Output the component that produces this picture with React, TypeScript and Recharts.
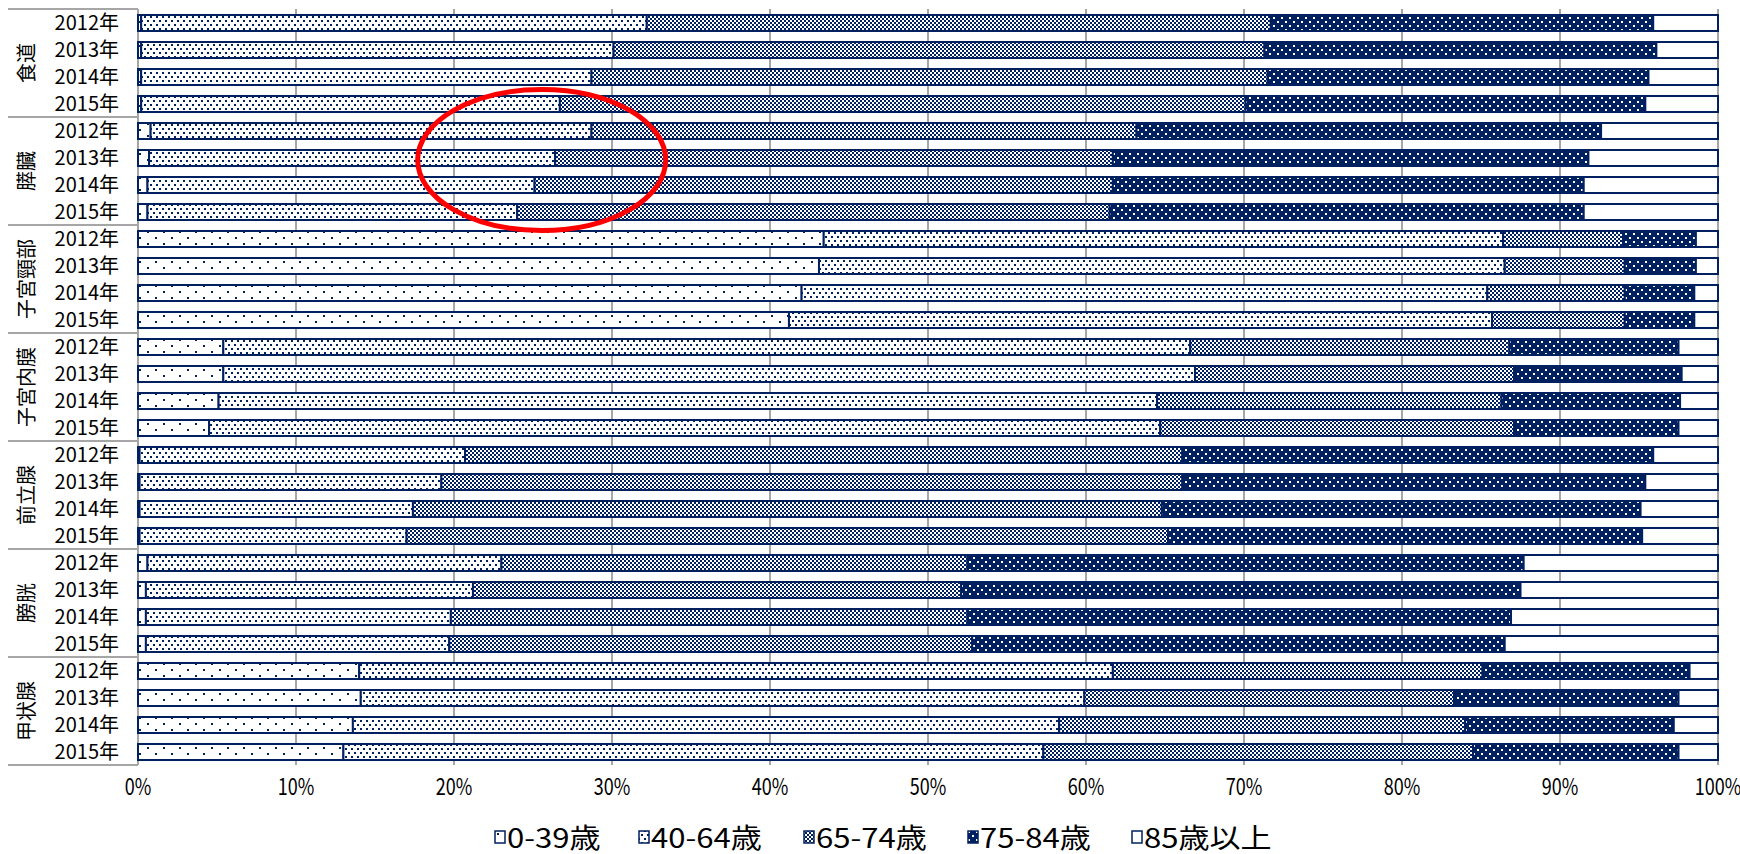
import React from "react";
import {
  BarChart,
  Bar,
  XAxis,
  YAxis,
  CartesianGrid,
  Legend,
  ReferenceArea,
} from "recharts";

const sites = ["食道", "膵臓", "子宮頸部", "子宮内膜", "前立腺", "膀胱", "甲状腺"];
const years = ["2012年", "2013年", "2014年", "2015年"];
const ageGroups = ["0-39歳", "40-64歳", "65-74歳", "75-84歳", "85歳以上"];

// share of patients (%) per row: sites in order, 2012-2015 inside each site
const age0to39 = [
  0.2, 0.2, 0.2, 0.2,
  0.8, 0.7, 0.6, 0.6,
  43.4, 43.1, 42.0, 41.2,
  5.4, 5.4, 5.1, 4.5,
  0.1, 0.1, 0.1, 0.1,
  0.6, 0.5, 0.5, 0.5,
  14.0, 14.1, 13.6, 13.0,
];
const age40to64 = [
  32.0, 29.9, 28.5, 26.5,
  27.9, 25.7, 24.5, 23.4,
  43.0, 43.4, 43.4, 44.5,
  61.2, 61.5, 59.4, 60.2,
  20.6, 19.1, 17.3, 16.9,
  22.4, 20.7, 19.3, 19.2,
  47.7, 45.8, 44.7, 44.3,
];
const age65to74 = [
  39.5, 41.2, 42.8, 43.4,
  34.5, 35.3, 36.6, 37.5,
  7.6, 7.6, 8.7, 8.4,
  20.2, 20.2, 21.8, 22.4,
  45.4, 46.9, 47.4, 48.2,
  29.5, 30.9, 32.7, 33.1,
  23.4, 23.4, 25.7, 27.2,
];
const age75to84 = [
  24.2, 24.8, 24.1, 25.3,
  29.4, 30.1, 29.8, 30.0,
  4.6, 4.5, 4.4, 4.4,
  10.7, 10.6, 11.3, 10.4,
  29.8, 29.3, 30.3, 30.0,
  35.2, 35.4, 34.4, 33.7,
  13.1, 14.2, 13.2, 13.0,
];
const age85plus = [
  4.1, 3.9, 4.4, 4.6,
  7.4, 8.2, 8.5, 8.5,
  1.4, 1.4, 1.5, 1.5,
  2.5, 2.3, 2.4, 2.5,
  4.1, 4.6, 4.9, 4.8,
  12.3, 12.5, 13.1, 13.5,
  1.8, 2.5, 2.8, 2.5,
];
const xTicks = [0, 10, 20, 30, 40, 50, 60, 70, 80, 90, 100];

// red ellipse drawn around the 膵臓 40-64 boundary
const highlight = { from: 17.7, to: 33.4, top: "食道-2015年", bottom: "膵臓-2015年" };

const NAVY = "#002060";
const GRID = "#a6a6a6";
const BAND = 27;
const JP = "'Noto Sans CJK JP', sans-serif";
const NARROW = "'Liberation Sans Narrow', 'Noto Sans CJK JP', sans-serif";
const legendLeft = [494, 638, 803, 967, 1131];

const rows = sites.flatMap((site, s) =>
  years.map((year, y) => {
    const i = s * 4 + y;
    return {
      key: `${site}-${year}`,
      site,
      year,
      a0: age0to39[i],
      a1: age40to64[i],
      a2: age65to74[i],
      a3: age75to84[i],
      a4: age85plus[i],
    };
  })
);

const series = [
  { key: "a0", fill: "url(#pat0)" },
  { key: "a1", fill: "url(#pat1)" },
  { key: "a2", fill: "url(#pat2)" },
  { key: "a3", fill: "url(#pat3)" },
  { key: "a4", fill: "#ffffff" },
];

function RowTick(props: any) {
  const { y, payload } = props;
  const idx = rows.findIndex((r) => r.key === payload.value);
  if (idx < 0) return null;
  const row = rows[idx];
  const pos = idx % 4;
  return (
    <g>
      <text x={119} y={y} dy={7} textAnchor="end" fontSize={20} fontFamily={JP} fill="#000">
        {row.year}
      </text>
      {pos === 0 && (
        <line x1={8} x2={138} y1={y - BAND / 2} y2={y - BAND / 2} stroke={GRID} strokeWidth={2} />
      )}
      {idx === rows.length - 1 && (
        <line x1={8} x2={138} y1={y + BAND / 2} y2={y + BAND / 2} stroke={GRID} strokeWidth={2} />
      )}
      {pos === 1 && (
        <text
          transform={`translate(25, ${y + BAND / 2}) rotate(-90)`}
          textAnchor="middle"
          dominantBaseline="central"
          fontSize={20}
          fontFamily={JP}
          fill="#000"
        >
          {row.site}
        </text>
      )}
    </g>
  );
}

function PctTick(props: any) {
  const { x, y, payload } = props;
  return (
    <text
      transform={`translate(${x}, ${y + 22}) scale(1, 1.3)`}
      textAnchor="middle"
      fontSize={18}
      fontFamily={NARROW}
      fill="#000"
    >
      {payload.value}%
    </text>
  );
}

function Ellipse(props: any) {
  const { x, y, width, height } = props;
  return (
    <ellipse
      cx={x + width / 2}
      cy={y + height / 2 + 2.5}
      rx={width / 2}
      ry={height / 2 + 3}
      fill="none"
      stroke="#ff0000"
      strokeWidth={5}
    />
  );
}

function LegendBox() {
  return (
    <div style={{ height: 59, position: "relative", width: 1740 }}>
      {ageGroups.map((name, i) => (
        <div
          key={name}
          style={{
            position: "absolute",
            left: legendLeft[i],
            top: 27,
            height: 30,
            display: "flex",
            alignItems: "center",
            whiteSpace: "nowrap",
          }}
        >
          <svg width={12} height={14} style={{ marginRight: 1 }}>
            <rect x={1} y={1} width={10} height={12} fill={series[i].fill} stroke={NAVY} strokeWidth={1.5} />
          </svg>
          <span
            style={{
              display: "inline-block",
              fontSize: 27,
              fontFamily: JP,
              color: "#000",
              transform: "scale(1.15, 1)",
              transformOrigin: "left center",
              lineHeight: "30px",
            }}
          >
            {name}
          </span>
        </div>
      ))}
    </div>
  );
}

export default function App() {
  return (
    <div style={{ position: "absolute", left: 0, top: 0, width: 1740, height: 854, background: "#fff" }}>
      <BarChart
        width={1740}
        height={854}
        data={rows}
        layout="vertical"
        margin={{ top: 9, right: 22, left: 0, bottom: 0 }}
      >
        <defs>
          <pattern id="pat0" width={16} height={12} patternUnits="userSpaceOnUse">
            <rect width={16} height={12} fill="#fff" />
            <rect x={3} y={3} width={2} height={2} fill={NAVY} shapeRendering="crispEdges" />
            <rect x={11} y={9} width={2} height={2} fill={NAVY} shapeRendering="crispEdges" />
          </pattern>
          <pattern id="pat1" width={6} height={8} patternUnits="userSpaceOnUse">
            <rect width={6} height={8} fill="#fff" />
            <rect x={0} y={0} width={2} height={2} fill={NAVY} shapeRendering="crispEdges" />
            <rect x={3} y={4} width={2} height={2} fill={NAVY} shapeRendering="crispEdges" />
          </pattern>
          <pattern id="pat2" width={4} height={4} patternUnits="userSpaceOnUse">
            <rect width={4} height={4} fill="#fff" />
            <rect x={0} y={0} width={2} height={2} fill={NAVY} shapeRendering="crispEdges" />
            <rect x={2} y={2} width={2} height={2} fill={NAVY} shapeRendering="crispEdges" />
          </pattern>
          <pattern id="pat3" width={8} height={8} patternUnits="userSpaceOnUse">
            <rect width={8} height={8} fill={NAVY} />
            <rect x={1} y={1} width={2} height={2} fill="#fff" shapeRendering="crispEdges" />
            <rect x={5} y={5} width={2} height={2} fill="#fff" shapeRendering="crispEdges" />
          </pattern>
        </defs>
        <CartesianGrid horizontal={false} stroke={GRID} strokeWidth={2} />
        <XAxis
          type="number"
          domain={[0, 100]}
          ticks={xTicks}
          interval={0}
          axisLine={false}
          tickLine={false}
          height={30}
          tick={<PctTick />}
        />
        <YAxis
          type="category"
          dataKey="key"
          width={138}
          axisLine={false}
          tickLine={false}
          interval={0}
          tick={<RowTick />}
        />
        {series.map((s, i) => (
          <Bar
            key={s.key}
            dataKey={s.key}
            name={ageGroups[i]}
            stackId="age"
            fill={s.fill}
            stroke={NAVY}
            strokeWidth={2}
            barSize={16}
            isAnimationActive={false}
          />
        ))}
        <ReferenceArea
          x1={highlight.from}
          x2={highlight.to}
          y1={highlight.top}
          y2={highlight.bottom}
          ifOverflow="visible"
          zIndex={2000}
          shape={<Ellipse />}
        />
        <Legend verticalAlign="bottom" wrapperStyle={{ left: 0 }} content={<LegendBox />} />
      </BarChart>
    </div>
  );
}
